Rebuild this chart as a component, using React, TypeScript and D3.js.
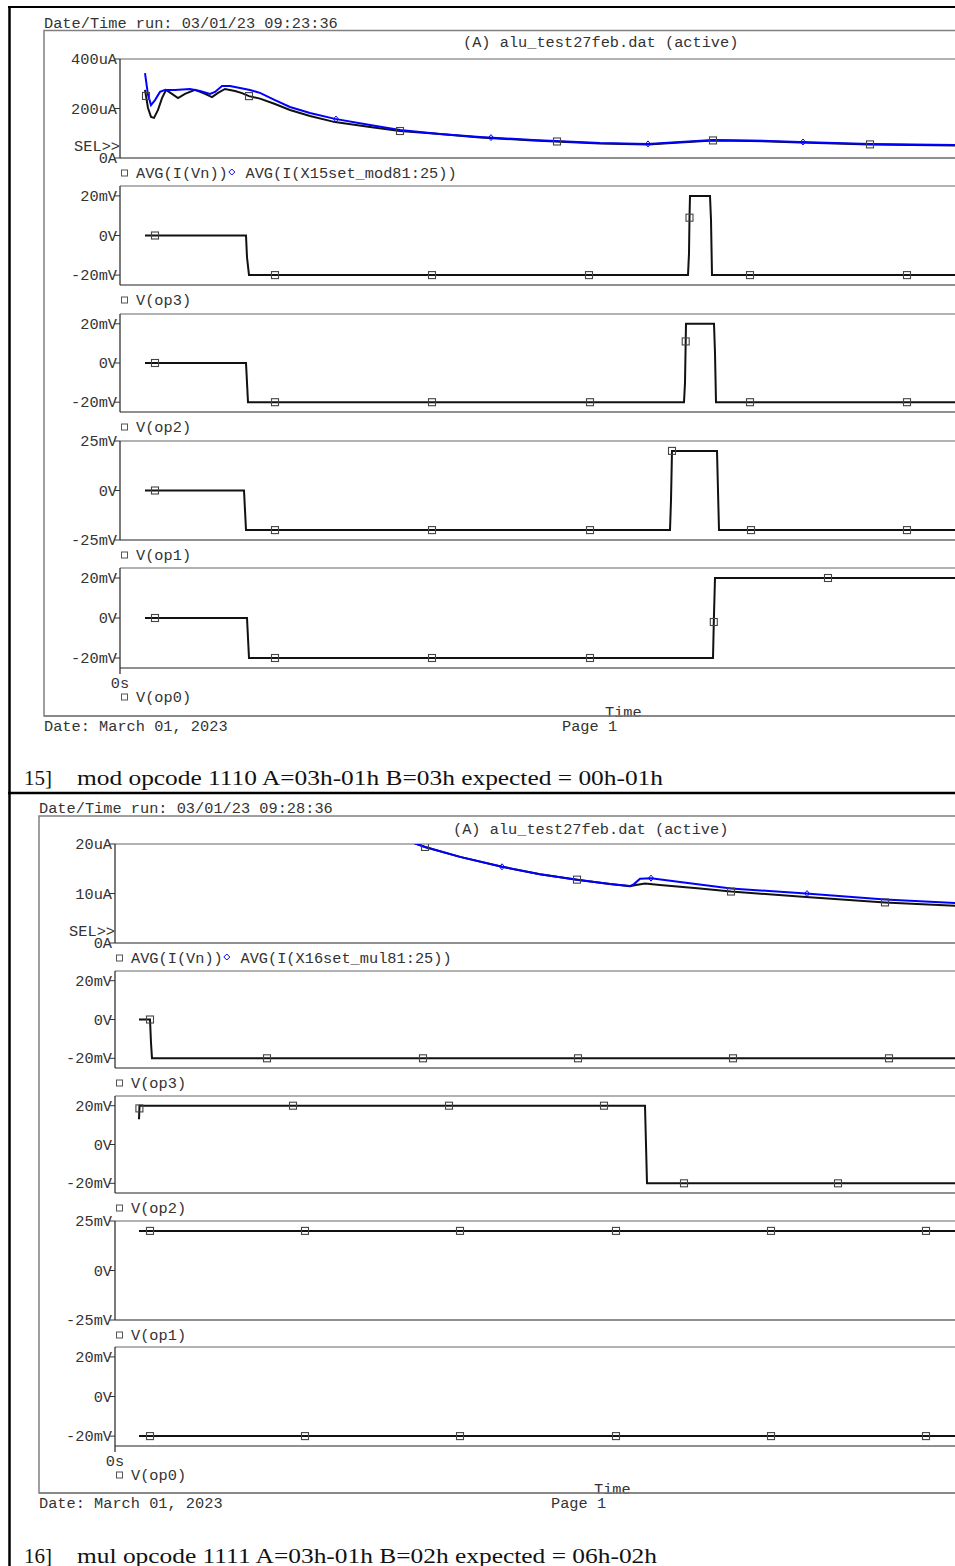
import React from "react";
import * as d3 from "d3";

type Pt = [number, number];

// ---------- Run 15: mod opcode 1110 (time axis in arbitrary units from 0s) ----------
const modAvgIVn: Pt[] = [
  [25, 275], [28, 202], [31, 166], [34, 162], [38, 194], [42, 242], [46, 275], [52, 259], [58, 242],
  [65, 259], [75, 275], [85, 259], [92, 246], [98, 263], [105, 279], [115, 271], [122, 262], [129, 250],
  [140, 240], [155, 218], [170, 194], [190, 170], [215, 145], [250, 125], [280, 109], [320, 97],
  [360, 83], [413, 71], [480, 59], [528, 55], [560, 63], [593, 71], [630, 69], [680, 63], [750, 55],
  [835, 51], [880, 50],
];
const modAvgIX15: Pt[] = [
  [25, 343], [28, 255], [31, 214], [35, 234], [40, 267], [45, 275], [55, 275], [70, 279], [80, 271],
  [90, 259], [95, 267], [102, 291], [110, 291], [120, 283], [130, 275], [140, 263], [155, 234],
  [170, 206], [190, 182], [215, 158], [250, 133], [280, 113], [320, 97], [360, 85], [413, 73],
  [480, 61], [528, 57], [560, 65], [593, 73], [630, 71], [680, 65], [750, 57], [835, 53], [880, 52],
];
const modIVnMarks = [26, 129, 280, 437, 593, 750];
const modIX15Marks = [216, 371, 528, 683];

const modOp3: Pt[] = [[25, 0], [126, 0], [127, -11], [129, -20], [568, -20], [569, -9], [569.5, 9], [570, 20], [590, 20], [591, 8], [592, -20], [880, -20]];
const modOp3Marks = [35, 155, 312, 469, 569.5, 630, 787];
const modOp2: Pt[] = [[25, 0], [126, 0], [127, -10], [128, -20], [564, -20], [565, -10], [566, 20], [594, 20], [595, 5], [596, -20], [880, -20]];
const modOp2Marks = [35, 155, 312, 470, 565.7, 630, 787];
const modOp1: Pt[] = [[25, 0], [124, 0], [125, -10], [126, -20], [550, -20], [551, -5], [552, 20], [597, 20], [598, 0], [599, -20], [880, -20]];
const modOp1Marks = [35, 155, 312, 470, 552, 631, 787];
const modOp0: Pt[] = [[25, 0], [127, 0], [128, -10], [129, -20], [593, -20], [593.8, -2], [595, 20], [880, 20]];
const modOp0Marks = [35, 155, 312, 470, 593.8, 708];

// ---------- Run 16: mul opcode 1111 ----------
const mulAvgIVn: Pt[] = [
  [290, 21], [299, 20.2], [310, 19.4], [345, 17.4], [387, 15.4], [425, 13.9], [462, 12.8], [495, 11.9],
  [515, 11.45], [521, 11.7], [530, 12.0], [545, 11.7], [585, 11.0], [616, 10.4], [691, 9.3], [770, 8.2],
  [840, 7.5], [880, 7.3],
];
const mulAvgIX16: Pt[] = [
  [290, 21], [299, 20.2], [310, 19.4], [345, 17.4], [387, 15.4], [425, 13.9], [462, 12.8], [495, 11.9],
  [515, 11.5], [519, 11.9], [525, 13.0], [536, 13.1], [565, 12.3], [616, 11.0], [691, 10.0], [770, 8.8],
  [840, 8.1], [880, 7.9],
];
const mulIVnMarks = [310, 462, 616, 770];
const mulIX16Marks = [387, 536, 692];

const mulOp3: Pt[] = [[24, 0], [35, 0], [36, -12], [37, -20], [880, -20]];
const mulOp3Marks = [35, 152, 308, 463, 618, 774];
const mulOp2: Pt[] = [[24, 13], [24.5, 20], [530, 20], [531, 0], [532, -20], [880, -20]];
const mulOp2Marks = [24.4, 178, 334, 489, 569, 723];
const mulOp1: Pt[] = [[24, 20], [880, 20]];
const mulOp1Marks = [35, 190, 345, 501, 656, 811];
const mulOp0: Pt[] = [[24, -20], [880, -20]];
const mulOp0Marks = [35, 190, 345, 501, 656, 811];

const voltTicks = [-20, 0, 20];
const voltTicks25 = [-25, 0, 25];
const fmtV = (v: number) => (v === 0 ? "0V" : `${v}mV`);
const fmtA = (v: number) => (v === 0 ? "0A" : `${v}uA`);

// ---------- styling ----------
const MONO = "'Liberation Mono', 'Courier New', monospace";
const MONO_SIZE = 15.3;
const TXT = "#333";
const BLUE = "#0000ff";

interface Trace { pts: Pt[]; color: string; marker: "square" | "diamond"; marks: number[] }
interface LegendItem { marker: "square" | "diamond"; text: string }
interface Panel { domain: [number, number]; ticks: number[]; fmt: (v: number) => string; traces: Trace[]; legend: LegendItem[]; sel?: boolean }
interface ChartCfg {
  frameLeft: number; frameTop: number; frameBottom: number; plotLeft: number;
  runText: string; runY: number; titleX: number; titleY: number;
  boxes: [number, number][]; timeX: number; pageX: number; footerY: number;
  headNum: string; headText: string; headY: number; headLen: number;
  panels: Panel[];
}

const chart1: ChartCfg = {
  frameLeft: 44, frameTop: 30.5, frameBottom: 716, plotLeft: 120,
  runText: "Date/Time run: 03/01/23 09:23:36", runY: 28, titleX: 463, titleY: 47,
  boxes: [[59, 158], [186, 285], [314, 412], [441, 540], [568, 668]],
  timeX: 605, pageX: 562, footerY: 731,
  headNum: "15]", headText: "mod opcode 1110 A=03h-01h B=03h expected = 00h-01h", headY: 785, headLen: 586,
  panels: [
    {
      domain: [0, 400], ticks: [0, 200, 400], fmt: fmtA, sel: true,
      traces: [
        { pts: modAvgIVn, color: "#111", marker: "square", marks: modIVnMarks },
        { pts: modAvgIX15, color: BLUE, marker: "diamond", marks: modIX15Marks },
      ],
      legend: [{ marker: "square", text: "AVG(I(Vn))" }, { marker: "diamond", text: "AVG(I(X15set_mod81:25))" }],
    },
    { domain: [-25, 25], ticks: voltTicks, fmt: fmtV, traces: [{ pts: modOp3, color: "#111", marker: "square", marks: modOp3Marks }], legend: [{ marker: "square", text: "V(op3)" }] },
    { domain: [-25, 25], ticks: voltTicks, fmt: fmtV, traces: [{ pts: modOp2, color: "#111", marker: "square", marks: modOp2Marks }], legend: [{ marker: "square", text: "V(op2)" }] },
    { domain: [-25, 25], ticks: voltTicks25, fmt: fmtV, traces: [{ pts: modOp1, color: "#111", marker: "square", marks: modOp1Marks }], legend: [{ marker: "square", text: "V(op1)" }] },
    { domain: [-25, 25], ticks: voltTicks, fmt: fmtV, traces: [{ pts: modOp0, color: "#111", marker: "square", marks: modOp0Marks }], legend: [{ marker: "square", text: "V(op0)" }] },
  ],
};

const chart2: ChartCfg = {
  frameLeft: 39, frameTop: 816, frameBottom: 1493, plotLeft: 115,
  runText: "Date/Time run: 03/01/23 09:28:36", runY: 813, titleX: 453, titleY: 834,
  boxes: [[844, 943], [971, 1068], [1096, 1193], [1221, 1320], [1347, 1446]],
  timeX: 594, pageX: 551, footerY: 1508,
  headNum: "16]", headText: "mul opcode 1111 A=03h-01h B=02h expected = 06h-02h", headY: 1563, headLen: 580,
  panels: [
    {
      domain: [0, 20], ticks: [0, 10, 20], fmt: fmtA, sel: true,
      traces: [
        { pts: mulAvgIVn, color: "#111", marker: "square", marks: mulIVnMarks },
        { pts: mulAvgIX16, color: BLUE, marker: "diamond", marks: mulIX16Marks },
      ],
      legend: [{ marker: "square", text: "AVG(I(Vn))" }, { marker: "diamond", text: "AVG(I(X16set_mul81:25))" }],
    },
    { domain: [-25, 25], ticks: voltTicks, fmt: fmtV, traces: [{ pts: mulOp3, color: "#111", marker: "square", marks: mulOp3Marks }], legend: [{ marker: "square", text: "V(op3)" }] },
    { domain: [-25, 25], ticks: voltTicks, fmt: fmtV, traces: [{ pts: mulOp2, color: "#111", marker: "square", marks: mulOp2Marks }], legend: [{ marker: "square", text: "V(op2)" }] },
    { domain: [-25, 25], ticks: voltTicks25, fmt: fmtV, traces: [{ pts: mulOp1, color: "#111", marker: "square", marks: mulOp1Marks }], legend: [{ marker: "square", text: "V(op1)" }] },
    { domain: [-25, 25], ticks: voltTicks, fmt: fmtV, traces: [{ pts: mulOp0, color: "#111", marker: "square", marks: mulOp0Marks }], legend: [{ marker: "square", text: "V(op0)" }] },
  ],
};

function interp(pts: Pt[], t: number): number {
  for (let i = 1; i < pts.length; i++) {
    const [t0, v0] = pts[i - 1];
    const [t1, v1] = pts[i];
    if (t <= t1) {
      if (t1 === t0) return v1;
      return v0 + ((v1 - v0) * (t - t0)) / (t1 - t0);
    }
  }
  return pts[pts.length - 1][1];
}

const T_MAX = 880;

function Marker({ kind, x, y, color }: { kind: "square" | "diamond"; x: number; y: number; color: string }) {
  if (kind === "square")
    return <rect x={x - 3.5} y={y - 3.5} width={7} height={7} fill="none" stroke="#444" strokeWidth={1.1} />;
  return <path d={`M${x},${y - 3}L${x + 2.5},${y}L${x},${y + 3}L${x - 2.5},${y}Z`} fill="none" stroke={color} strokeWidth={1} />;
}

function Chart({ cfg, id }: { cfg: ChartCfg; id: string }) {
  const x = d3.scaleLinear().domain([0, T_MAX]).range([cfg.plotLeft, cfg.plotLeft + T_MAX]);
  const right = 1000;
  const charW = MONO_SIZE * 0.6;
  const lastBottom = cfg.boxes[cfg.boxes.length - 1][1];
  return (
    <g>
      {/* header text */}
      <text x={cfg.frameLeft} y={cfg.runY} fontFamily={MONO} fontSize={MONO_SIZE} fill={TXT}>{cfg.runText}</text>
      {/* outer frame */}
      <path d={`M${right},${cfg.frameTop}H${cfg.frameLeft}V${cfg.frameBottom}H${right}`} fill="none" stroke="#808080" strokeWidth={1.5} />
      <text x={cfg.titleX} y={cfg.titleY} fontFamily={MONO} fontSize={MONO_SIZE} fill={TXT}>(A) alu_test27feb.dat (active)</text>

      {cfg.panels.map((p, i) => {
        const [top, bottom] = cfg.boxes[i];
        const y = d3.scaleLinear().domain(p.domain).range([bottom, top]);
        const line = d3.line<Pt>().x((d) => x(d[0])).y((d) => y(d[1]));
        const clipId = `${id}-clip-${i}`;
        const isLast = i === cfg.panels.length - 1;
        const legendY = isLast ? bottom + 34 : bottom + 20;
        let lx = cfg.plotLeft + 16;
        return (
          <g key={i}>
            <defs>
              <clipPath id={clipId}>
                <rect x={cfg.plotLeft} y={top} width={right - cfg.plotLeft} height={bottom - top} />
              </clipPath>
            </defs>
            <rect x={cfg.plotLeft} y={top} width={right - cfg.plotLeft} height={bottom - top} fill="#fff" />
            <line x1={cfg.plotLeft} x2={right} y1={top} y2={top} stroke="#666" strokeWidth={1.2} />
            <line x1={cfg.plotLeft} x2={right} y1={bottom} y2={bottom} stroke="#222" strokeWidth={1.2} />
            <line x1={cfg.plotLeft} x2={cfg.plotLeft} y1={top} y2={isLast ? bottom + 6 : bottom} stroke="#222" strokeWidth={1.2} />
            <g clipPath={`url(#${clipId})`}>
              {p.traces.map((tr, j) => (
                <path key={j} d={line(tr.pts) || ""} fill="none" stroke={tr.color} strokeWidth={2} strokeLinejoin="miter" />
              ))}
              {p.traces.map((tr, j) =>
                tr.marks.map((t, k) => (
                  <Marker key={`${j}-${k}`} kind={tr.marker} x={x(t)} y={y(interp(tr.pts, t))} color={tr.color} />
                ))
              )}
            </g>
            {p.ticks.map((t) => (
              <g key={t}>
                <line x1={cfg.plotLeft - 6} x2={cfg.plotLeft} y1={y(t)} y2={y(t)} stroke="#333" strokeWidth={1} />
                <text x={cfg.plotLeft - 3} y={y(t) + 5} textAnchor="end" fontFamily={MONO} fontSize={MONO_SIZE} fill={TXT}>
                  {p.fmt(t)}
                </text>
              </g>
            ))}
            {p.sel && (
              <text x={cfg.plotLeft} y={bottom - 7} textAnchor="end" fontFamily={MONO} fontSize={MONO_SIZE} fill={TXT}>SEL&gt;&gt;</text>
            )}
            {isLast && (
              <text x={cfg.plotLeft} y={bottom + 20} textAnchor="middle" fontFamily={MONO} fontSize={MONO_SIZE} fill={TXT}>0s</text>
            )}
            {p.legend.map((it, j) => {
              const startX = lx;
              lx += (it.text.length + 1) * charW + (j === 0 ? 0 : 0);
              if (it.marker === "square") {
                return (
                  <g key={j}>
                    <rect x={startX - 14.5} y={legendY - 8} width={6} height={6} fill="none" stroke="#555" strokeWidth={1} />
                    <text x={startX} y={legendY} fontFamily={MONO} fontSize={MONO_SIZE} fill={TXT}>{it.text}</text>
                  </g>
                );
              }
              const dx = startX - charW * 1 + 4;
              return (
                <g key={j}>
                  <path d={`M${dx},${legendY - 9}L${dx + 3},${legendY - 6}L${dx},${legendY - 3}L${dx - 3},${legendY - 6}Z`} fill="none" stroke={BLUE} strokeWidth={1} />
                  <text x={startX + 8.5} y={legendY} fontFamily={MONO} fontSize={MONO_SIZE} fill={TXT}>{it.text}</text>
                </g>
              );
            })}
          </g>
        );
      })}

      <text x={cfg.timeX} y={cfg.frameBottom + 1} fontFamily={MONO} fontSize={MONO_SIZE} fill={TXT}>Time</text>
      <line x1={cfg.frameLeft} x2={right} y1={cfg.frameBottom} y2={cfg.frameBottom} stroke="#808080" strokeWidth={1.5} />
      <text x={cfg.frameLeft} y={cfg.footerY} fontFamily={MONO} fontSize={MONO_SIZE} fill={TXT}>Date: March 01, 2023</text>
      <text x={cfg.pageX} y={cfg.footerY} fontFamily={MONO} fontSize={MONO_SIZE} fill={TXT}>Page 1</text>

      <text x={24} y={cfg.headY} fontFamily="'Liberation Serif', serif" fontSize={21} fill="#111">{cfg.headNum}</text>
      <text x={77} y={cfg.headY} fontFamily="'Liberation Serif', serif" fontSize={21} fill="#111" textLength={cfg.headLen} lengthAdjust="spacingAndGlyphs">
        {cfg.headText}
      </text>
      {lastBottom ? null : null}
    </g>
  );
}

export default function App() {
  return (
    <div style={{ position: "absolute", left: 0, top: 0, width: 955, height: 1566, overflow: "hidden", background: "#fff" }}>
      <svg width={955} height={1566} viewBox="0 0 955 1566" style={{ display: "block" }}>
        <rect x={0} y={0} width={955} height={1566} fill="#fff" />
        <Chart cfg={chart1} id="c1" />
        <Chart cfg={chart2} id="c2" />
        {/* page/table borders */}
        <line x1={9.5} x2={9.5} y1={6} y2={1566} stroke="#000" strokeWidth={2.5} />
        <line x1={8} x2={955} y1={7} y2={7} stroke="#000" strokeWidth={2} />
        <line x1={8} x2={955} y1={793} y2={793} stroke="#000" strokeWidth={2.5} />
      </svg>
    </div>
  );
}
